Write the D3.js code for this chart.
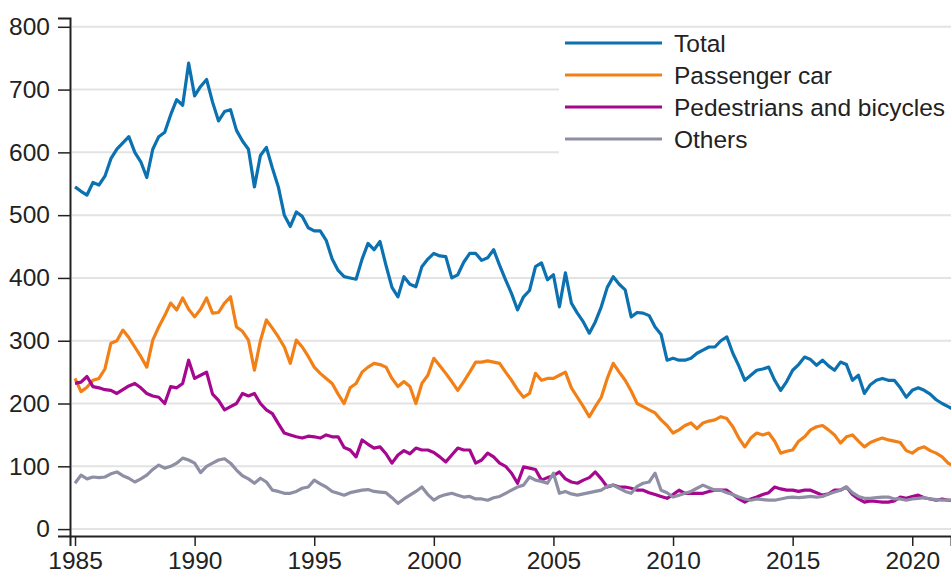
<!DOCTYPE html>
<html>
<head>
<meta charset="utf-8">
<script src="https://cdn.jsdelivr.net/npm/d3@7"></script>
<style>
  body { margin: 0; background: #fff; }
  svg { display: block; font-family: "Liberation Sans", Arial, sans-serif; }
</style>
</head>
<body>
<div id="chart"></div>
<script>
'use strict';

// quarterly values, first point = Q1 1985
const startYear = 1985;
const seriesNames = ["Total", "Passenger car", "Pedestrians and bicycles", "Others"];
const xTicks = [1985, 1990, 1995, 2000, 2005, 2010, 2015, 2020];
const yTicks = [0, 100, 200, 300, 400, 500, 600, 700, 800];

const total = [
  545, 538, 532, 552,  548, 562, 590, 605,  615, 625, 600, 585,  560, 605, 625, 632,
  660, 684, 675, 742,  690, 705, 716, 680,  650, 665, 668, 635,  618, 605, 545, 595,
  608, 575, 545, 500,  482, 505, 498, 480,  475, 475, 460, 430,  412, 402, 400, 398,
  430, 455, 445, 458,  420, 385, 370, 402,  390, 386, 418, 430,  439, 435, 434, 400,
  405, 425, 439, 439,  428, 432, 445, 420,  397, 375, 349, 370,  380, 418, 424, 397,
  405, 354, 408, 360,  344, 330, 312, 330,  354, 385, 402, 390,  381, 338, 345, 344,
  340, 322, 310, 269,  272, 269, 269, 272,  280, 285, 290, 290,  300, 306, 280, 260,
  237, 245, 253, 255,  258, 237, 221, 235,  253, 262, 274, 270,  261, 269, 260, 253,
  266, 262, 237, 245,  216, 230, 237, 240,  237, 237, 225, 210,  221, 225, 221, 215,
  206, 200, 195, 190
];

const passengerCar = [
  240, 219, 226, 237,  240, 255, 296, 300,  317, 305, 290, 275,  258, 301, 322, 340,
  360, 349, 368, 350,  338, 350, 368, 344,  345, 360, 370, 322,  315, 301, 253, 300,
  333, 320, 306, 290,  264, 301, 290, 275,  258, 248, 240, 232,  215, 200, 225, 232,
  250, 258, 264, 262,  258, 240, 227, 235,  227, 200, 232, 245,  272, 260, 248, 235,
  221, 235, 250, 266,  266, 268, 266, 264,  250, 237, 222, 210,  216, 248, 237, 240,
  240, 245, 250, 225,  210, 195, 179, 195,  210, 240, 264, 250,  237, 220, 200, 195,
  190, 185, 174, 165,  153, 158, 165, 169,  160, 169, 172, 174,  179, 176, 163, 145,
  131, 145, 153, 150,  153, 140, 121, 124,  126, 140, 147, 158,  163, 165, 158, 150,
  137, 147, 150, 140,  131, 138, 142, 145,  142, 140, 138, 125,  121, 128, 131, 125,
  121, 115, 105, 100
];

const pedestrians = [
  232, 234, 243, 227,  225, 222, 221, 216,  222, 228, 232, 225,  216, 212, 210, 200,
  227, 225, 232, 269,  240, 245, 250, 215,  205, 190, 195, 200,  216, 212, 216, 200,
  190, 184, 168, 153,  150, 147, 145, 148,  147, 145, 150, 147,  147, 130, 126, 115,
  142, 135, 129, 131,  120, 105, 118, 125,  120, 129, 126, 126,  122, 115, 107, 118,
  129, 126, 126, 105,  110, 121, 115, 105,  100,  89,  73,  99,   97,  95,  78,  82,
   85,  91,  80,  75,   73,  78,  82,  91,   80,  67,  70,  67,   67,  65,  62,  62,
   58,  55,  52,  49,   55,  62,  57,  57,   57,  57,  60,  62,   62,  62,  55,  48,
   43,  48,  51,  55,   58,  67,  64,  62,   62,  60,  62,  62,   58,  54,  56,  62,
   62,  67,  55,  48,   43,  45,  44,  43,   43,  45,  51,  49,   52,  54,  50,  48,
   46,  48,  46,  45
];

const others = [
   73,  86,  80,  83,   82,  83,  88,  91,   85,  81,  75,  80,   86,  95, 102,  97,
  100, 105, 113, 110,  105,  90, 100, 105,  110, 112, 105,  94,   85,  80,  73,  81,
   75,  62,  60,  57,   57,  60,  65,  67,   78,  72,  67,  60,   57,  54,  58,  60,
   62,  63,  60,  59,   58,  50,  41,  48,   54,  60,  67,  55,   46,  52,  55,  57,
   54,  51,  52,  48,   48,  46,  50,  52,   57,  62,  67,  70,   83,  78,  76,  73,
   89,  57,  60,  56,   54,  56,  58,  60,   62,  68,  70,  65,   60,  57,  68,  73,
   75,  89,  62,  58,   51,  54,  57,  60,   65,  70,  66,  62,   62,  58,  55,  51,
   48,  46,  48,  47,   46,  46,  48,  50,   51,  50,  51,  52,   51,  52,  56,  59,
   62,  67,  58,  52,   49,  49,  50,  51,   51,  48,  48,  46,   48,  49,  50,  48,
   47,  46,  46,  46
];

const colors = ["#0b71b0", "#f28016", "#a5078e", "#8e8ea4"];
const allSeries = [total, passengerCar, pedestrians, others];

const width = 951, height = 579;

const svg = d3.select("#chart")
  .append("svg")
    .attr("width", width)
    .attr("height", height);

// scales
const x = d3.scaleLinear()
  .domain([1984.79, 2021.62])
  .range([70, 951]);

const y = d3.scaleLinear()
  .domain([-11, 814])
  .range([536, 18]);

// gridlines
svg.append("g")
  .selectAll("line")
  .data(yTicks)
  .enter()
  .append("line")
    .attr("x1", 72)
    .attr("x2", width)
    .attr("y1", d => y(d))
    .attr("y2", d => y(d))
    .style("stroke", "#e3e3e3")
    .style("stroke-width", 2);

// lines
const line = d3.line()
  .x((d, i) => x(startYear + i / 4))
  .y(d => y(d));

svg.append("g")
  .selectAll("path")
  .data(allSeries)
  .enter()
  .append("path")
    .attr("d", d => line(d))
    .style("fill", "none")
    .style("stroke", (d, i) => colors[i])
    .style("stroke-width", 3.2)
    .style("stroke-linejoin", "round");

// axes
const yAxis = svg.append("g")
  .attr("transform", "translate(70,0)")
  .call(d3.axisLeft(y).tickValues(yTicks).tickSize(12).tickPadding(8));

const xAxis = svg.append("g")
  .attr("transform", "translate(0,536)")
  .call(d3.axisBottom(x).tickValues(xTicks).tickFormat(d3.format("d")).tickSize(10).tickPadding(6));

[yAxis, xAxis].forEach(a => {
  a.select(".domain").style("stroke", "#222").style("stroke-width", 2);
  a.selectAll(".tick line").style("stroke", "#222").style("stroke-width", 1.5);
  a.selectAll("text")
    .style("font-family", "'Liberation Sans', Arial, sans-serif")
    .style("font-size", "24.5px")
    .style("fill", "#222");
});

// legend
const legend = svg.append("g");

legend.append("rect")
  .attr("x", 559)
  .attr("y", 30)
  .attr("width", width - 559)
  .attr("height", 128)
  .style("fill", "#fff");

const rows = legend.selectAll("g.item")
  .data(seriesNames)
  .enter()
  .append("g")
    .attr("class", "item")
    .attr("transform", (d, i) => "translate(0," + (43 + i * 32) + ")");

rows.append("line")
  .attr("x1", 565)
  .attr("x2", 662)
  .style("stroke", (d, i) => colors[i])
  .style("stroke-width", 3);

rows.append("text")
  .attr("x", 674)
  .attr("y", 8.5)
  .style("font-size", "24.5px")
  .style("fill", "#222")
  .text(d => d);
</script>
</body>
</html>
